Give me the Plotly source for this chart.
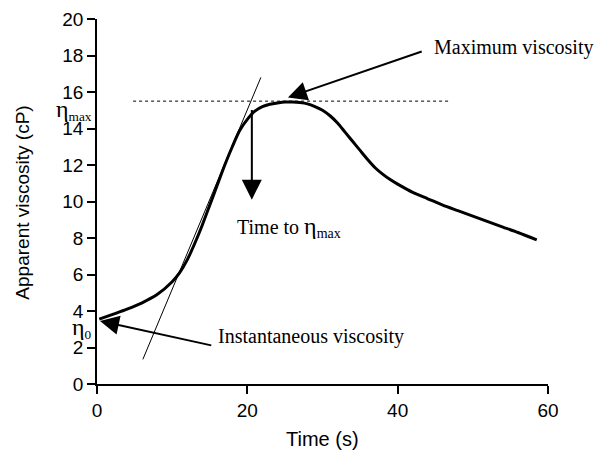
import plotly.graph_objects as go

# Curve data
time_s = [0.3, 2, 4, 6, 8, 10, 11, 12, 13, 14, 15, 16, 17, 18, 19, 20, 21, 22, 23, 24, 25, 26, 27, 28, 29, 30, 31, 32, 33, 34, 35, 36, 37, 38, 39, 40, 42, 44, 46, 48, 50, 52, 54, 56, 58.5]
viscosity = [3.55, 3.8, 4.1, 4.45, 4.9, 5.6, 6.1, 6.8, 7.7, 8.7, 9.8, 10.9, 12.0, 13.0, 13.9, 14.5, 14.95, 15.2, 15.33, 15.4, 15.45, 15.45, 15.42, 15.35, 15.2, 15.0, 14.7, 14.3, 13.8, 13.3, 12.8, 12.3, 11.85, 11.5, 11.2, 10.95, 10.5, 10.15, 9.8, 9.5, 9.2, 8.9, 8.6, 8.3, 7.9]

# Guide lines
max_line_x = [4.8, 47]
max_line_y = [15.5, 15.5]
tangent_x = [6.1, 21.8]
tangent_y = [1.35, 16.8]

x_ticks = [0, 20, 40, 60]
y_ticks = [0, 2, 4, 6, 8, 10, 12, 14, 16, 18, 20]

serif = "Liberation Serif, Times New Roman, serif"
sans = "Liberation Sans, Arial, sans-serif"
ETA = "<span style='font-size:24px'>η</span>"

fig = go.Figure()
fig.add_trace(go.Scatter(x=max_line_x, y=max_line_y, mode="lines",
                         line=dict(color="black", width=1, dash="dot"), hoverinfo="skip"))
fig.add_trace(go.Scatter(x=tangent_x, y=tangent_y, mode="lines",
                         line=dict(color="black", width=1), hoverinfo="skip"))
fig.add_trace(go.Scatter(x=time_s, y=viscosity, mode="lines",
                         line=dict(color="black", width=3, shape="spline", smoothing=0.8)))

annotations = [
    # Maximum viscosity arrow + text
    dict(x=25.4, y=15.7, ax=43.4, ay=18.25, axref="x", ayref="y", xref="x", yref="y",
         showarrow=True, arrowhead=2, arrowwidth=2, arrowsize=1.9, arrowcolor="black", text=""),
    dict(x=44.6, y=18.45, xref="x", yref="y", text="Maximum viscosity", showarrow=False,
         xanchor="left", yanchor="middle", font=dict(family=serif, size=20, color="black")),
    # Time to eta max arrow + text
    dict(x=20.6, y=10.1, ax=20.6, ay=15.1, axref="x", ayref="y", xref="x", yref="y",
         showarrow=True, arrowhead=2, arrowwidth=2, arrowsize=2, arrowcolor="black", text=""),
    dict(x=18.4, y=8.6, xref="x", yref="y", text="Time to " + ETA + "<sub>max</sub>", showarrow=False,
         xanchor="left", yanchor="middle", font=dict(family=serif, size=20, color="black")),
    # Instantaneous viscosity arrow + text
    dict(x=0.4, y=3.45, ax=15.4, ay=2.1, axref="x", ayref="y", xref="x", yref="y",
         showarrow=True, arrowhead=2, arrowwidth=2, arrowsize=1.9, arrowcolor="black", text=""),
    dict(x=15.8, y=2.6, xref="x", yref="y", text="Instantaneous viscosity", showarrow=False,
         xanchor="left", yanchor="middle", font=dict(family=serif, size=20, color="black")),
    # eta labels next to y axis
    dict(x=-0.006, y=15.0, xref="paper", yref="y", text=ETA + "<sub>max</sub>", showarrow=False,
         xanchor="right", yanchor="middle", font=dict(family=serif, size=19, color="black")),
    dict(x=-0.006, y=3.05, xref="paper", yref="y", text=ETA + "<sub>0</sub>", showarrow=False,
         xanchor="right", yanchor="middle", font=dict(family=serif, size=19, color="black")),
    # axis titles
    dict(x=0.5, y=-0.152, xref="paper", yref="paper", text="Time (s)", showarrow=False,
         xanchor="center", yanchor="middle", font=dict(family=sans, size=20, color="black")),
    dict(x=-0.164, y=0.497, xref="paper", yref="paper", text="Apparent viscosity (cP)", showarrow=False,
         textangle=-90, xanchor="center", yanchor="middle", font=dict(family=sans, size=19, color="black")),
]

fig.update_layout(
    width=604, height=451,
    margin=dict(l=97, r=56, t=19, b=67),
    paper_bgcolor="white", plot_bgcolor="white",
    showlegend=False,
    annotations=annotations,
    xaxis=dict(range=[0, 60], tickvals=x_ticks, showline=True, linecolor="black", linewidth=1.5,
               ticks="outside", ticklen=8, tickwidth=1.5, tickcolor="black", showgrid=False,
               zeroline=False, automargin=False, tickfont=dict(family=sans, size=19, color="black")),
    yaxis=dict(range=[0, 20], tickvals=y_ticks, showline=True, linecolor="black", linewidth=1.5,
               ticks="outside", ticklen=8, tickwidth=1.5, tickcolor="black", showgrid=False,
               zeroline=False, automargin=False, tickfont=dict(family=sans, size=19, color="black")),
)

fig.write_html("out.html")
